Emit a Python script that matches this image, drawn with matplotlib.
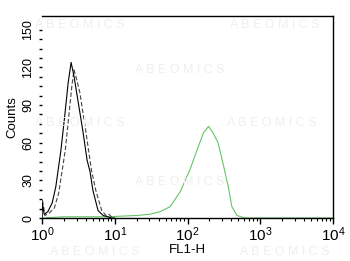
import numpy as np
import matplotlib
matplotlib.use("Agg")
import matplotlib.pyplot as plt
from matplotlib.ticker import FixedLocator, LogLocator, NullFormatter

# ---- data (log10 of FL1-H, counts) ----
solid_log = [0.0, 0.005, 0.03, 0.08, 0.14, 0.19, 0.26, 0.31, 0.36, 0.40, 0.44, 0.49, 0.56, 0.62, 0.66, 0.70, 0.77, 0.84, 0.90, 0.95, 1.0]
solid_cnt = [0, 12, 3, 5, 12, 25, 54, 80, 108, 124, 113, 95, 70, 46, 37, 22, 6, 2, 1, 0, 0]

dash_log = [0.0, 0.005, 0.04, 0.10, 0.17, 0.23, 0.32, 0.37, 0.41, 0.44, 0.47, 0.52, 0.60, 0.68, 0.74, 0.82, 0.88, 0.92, 0.97]
dash_cnt = [0, 15, 2, 4, 8, 20, 54, 82, 105, 118, 112, 100, 70, 38, 22, 6, 2, 3, 0]

green_log = [0.0, 0.3, 0.6, 0.9, 1.1, 1.3, 1.485, 1.62, 1.76, 1.90, 2.03, 2.13, 2.22, 2.29, 2.35, 2.42, 2.49, 2.56, 2.61, 2.68, 2.79, 3.2, 4.0]
green_cnt = [0, 1, 1, 1, 1.5, 2, 3, 5, 9, 21, 38, 54, 68, 73, 68, 60, 43, 25, 9, 2, 0, 0, 0]

y_ticks = [0, 30, 60, 90, 120, 150]
x_ticks = [1, 10, 100, 1000, 10000]
x_ticklabels = ["$10^{0}$", "$10^{1}$", "$10^{2}$", "$10^{3}$", "$10^{4}$"]

plt.rcParams['font.family'] = ['Liberation Sans', 'DejaVu Sans']
plt.rcParams['mathtext.fontset'] = 'custom'
plt.rcParams['mathtext.rm'] = 'Liberation Sans'
plt.rcParams['mathtext.it'] = 'Liberation Sans'

fig = plt.figure(figsize=(3.5, 2.61), dpi=100)
ax = fig.add_axes([42/350, 1-218/261, (333-42)/350, (218-16)/261])

# faint watermarks
wm = "A B E O M I C S"
for (x, y) in [(80, 25), (275, 25), (180, 70), (80, 123), (272, 123), (180, 182), (95, 252), (285, 252)]:
    fig.text(x/350, 1-y/261, wm, color='#efefef', fontsize=9, ha='center', va='center', zorder=0)

ax.patch.set_alpha(0)
ax.plot(10**np.array(green_log), green_cnt, color='#66c466', lw=0.8)
ax.plot(10**np.array(dash_log), dash_cnt, color='#444444', lw=0.8, ls=(0, (4, 2)))
ax.plot(10**np.array(solid_log), solid_cnt, color='black', lw=0.8)

ax.set_xscale('log')
ax.set_xlim(1, 10000)
ax.set_ylim(0, 161)

ax.spines['left'].set_visible(False)
for s in ['top', 'right', 'bottom']:
    ax.spines[s].set_linewidth(1.0)
    ax.spines[s].set_color('black')

ax.set_xticks(x_ticks)
ax.set_xticklabels(x_ticklabels, fontsize=11)
ax.xaxis.set_minor_locator(LogLocator(base=10, subs=np.arange(2, 10)))
ax.xaxis.set_minor_formatter(NullFormatter())
ax.tick_params(axis='x', which='major', length=4, width=1, direction='out', pad=1)
ax.tick_params(axis='x', which='minor', length=2.5, width=0.8, direction='out')

ax.set_yticks(y_ticks)
ax.set_yticklabels([str(v) for v in y_ticks], fontsize=9, rotation=90, va='center')
ax.yaxis.set_minor_locator(FixedLocator(np.arange(0, 157, 7.5)))
ax.tick_params(axis='y', which='both', length=2.5, width=1, direction='out', pad=3)

ax.set_xlabel("FL1-H", fontsize=9.5, labelpad=0)
ax.set_ylabel("Counts", fontsize=9.5, labelpad=3)

fig.savefig("out.png", dpi=100)
